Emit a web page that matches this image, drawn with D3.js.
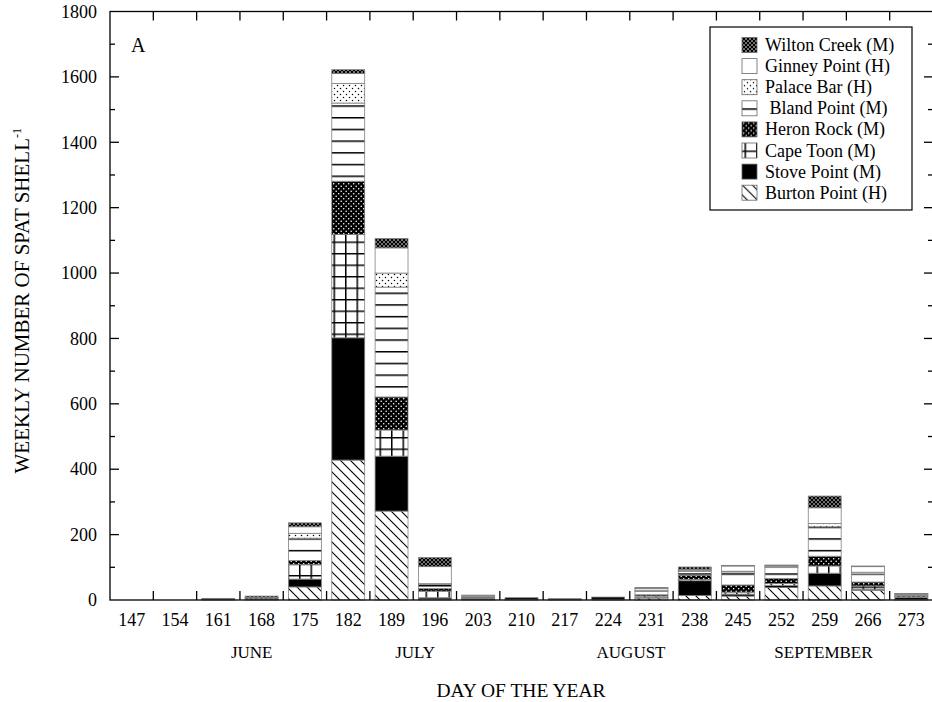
<!DOCTYPE html>
<html>
  <head>
    <title>Weekly spat</title>
    <script src="https://cdn.jsdelivr.net/npm/d3@7/dist/d3.min.js"></script>
    <style>
      body { margin: 0; background: #fff; }
      text { font-family: "Liberation Serif", "Times New Roman", serif; fill: #000; }
    </style>
  </head>
  <body>
    <svg width="932" height="702" id="mainsvg"></svg>
    <script>
      // days of year (x categories)
      const days = [147, 154, 161, 168, 175, 182, 189, 196, 203, 210, 217, 224, 231, 238, 245, 252, 259, 266, 273];
      // stacked series, bottom to top
      const burtonPoint = [0, 0, 1, 2, 40, 428, 272, 3, 2, 2, 1, 2, 6, 14, 12, 38, 43, 30, 2];
      const stovePoint  = [0, 0, 4, 2, 24, 374, 168, 4, 2, 5, 3, 7, 2, 45, 6, 6, 39, 3, 6];
      const capeToon    = [0, 0, 0, 0, 45, 316, 80, 20, 2, 0, 0, 0, 4, 4, 6, 6, 22, 10, 2];
      const heronRock   = [0, 0, 0, 4, 12, 163, 101, 8, 2, 0, 0, 0, 4, 13, 22, 16, 30, 12, 4];
      const blandPoint  = [0, 0, 0, 0, 68, 239, 336, 12, 4, 0, 0, 0, 10, 12, 40, 33, 90, 25, 3];
      const palaceBar   = [0, 0, 0, 0, 15, 60, 43, 3, 2, 0, 0, 0, 4, 3, 2, 4, 10, 5, 1];
      const ginneyPoint = [0, 0, 0, 0, 20, 30, 77, 52, 1, 0, 0, 0, 6, 3, 16, 2, 48, 17, 1];
      const wiltonCreek = [0, 0, 0, 4, 12, 12, 29, 28, 0, 0, 0, 0, 2, 7, 2, 2, 36, 2, 1];

      const seriesKeys = ['Burton Point (H)', 'Stove Point (M)', 'Cape Toon (M)', 'Heron Rock (M)',
                          ' Bland Point (M)', 'Palace Bar (H)', 'Ginney Point (H)', 'Wilton Creek (M)'];
      const seriesValues = [burtonPoint, stovePoint, capeToon, heronRock, blandPoint, palaceBar, ginneyPoint, wiltonCreek];
      const patternIds = ['burton', 'stove', 'cape', 'heron', 'bland', 'palace', 'ginney', 'wilton'];

      const yTicks = [0, 200, 400, 600, 800, 1000, 1200, 1400, 1600, 1800];
      const months = ['JUNE', 'JULY', 'AUGUST', 'SEPTEMBER'];
      const monthDays = [166.4, 192.8, 227.7, 258.8];

      const svg = d3.select('#mainsvg');
      const margin = {top: 11.5, right: -1, bottom: 102, left: 110};
      const width = +svg.attr('width');
      const height = +svg.attr('height');
      const x0 = margin.left, x1 = width - margin.right;
      const y0 = height - margin.bottom, y1 = margin.top;

      // table for d3.stack
      const table = days.map((d, i) => {
        const row = {day: d};
        seriesKeys.forEach((k, j) => row[k] = seriesValues[j][i]);
        return row;
      });
      const stacked = d3.stack().keys(seriesKeys)(table);

      const xScale = d3.scaleBand().domain(days).range([x0, x1]).paddingInner(0.24).paddingOuter(0.12);
      const yScale = d3.scaleLinear().domain([0, 1800]).range([y0, y1]);
      const step = xScale.step();
      const edge = d => xScale(d) - step * xScale.paddingOuter();
      const dayScale = d3.scaleLinear().domain([days[0], days[days.length - 1]])
        .range([xScale(days[0]) + xScale.bandwidth() / 2, xScale(days[days.length - 1]) + xScale.bandwidth() / 2]);

      // patterns
      const defs = svg.append('defs');
      const mkPat = (id, w, h) => defs.append('pattern').attr('id', id)
        .attr('patternUnits', 'userSpaceOnUse').attr('width', w).attr('height', h);

      let p = mkPat('burton', 10, 10);
      p.append('rect').attr('width', 10).attr('height', 10).attr('fill', '#fff');
      p.append('path').attr('d', 'M0,0L10,10M-1,9L1,11M9,-1L11,1').attr('stroke', '#000').attr('stroke-width', 1.1);

      p = mkPat('stove', 4, 4);
      p.append('rect').attr('width', 4).attr('height', 4).attr('fill', '#000');

      p = mkPat('cape', 11.5, 11.5);
      p.append('rect').attr('width', 11.5).attr('height', 11.5).attr('fill', '#fff');
      p.append('path').attr('d', 'M0,0.75H11.5M0.75,0V11.5').attr('stroke', '#000').attr('stroke-width', 1.5);

      p = mkPat('heron', 5, 5);
      p.append('rect').attr('width', 5).attr('height', 5).attr('fill', '#000');
      p.append('circle').attr('cx', 1.2).attr('cy', 1.2).attr('r', 0.8).attr('fill', '#fff');
      p.append('circle').attr('cx', 3.7).attr('cy', 3.7).attr('r', 0.8).attr('fill', '#fff');

      p = mkPat('bland', 11.7, 11.7);
      p.append('rect').attr('width', 11.7).attr('height', 11.7).attr('fill', '#fff');
      p.append('path').attr('d', 'M0,0.75H11.7').attr('stroke', '#000').attr('stroke-width', 1.5);

      p = mkPat('palace', 6, 6);
      p.append('rect').attr('width', 6).attr('height', 6).attr('fill', '#fff');
      p.append('circle').attr('cx', 1.5).attr('cy', 1.5).attr('r', 0.75).attr('fill', '#000');
      p.append('circle').attr('cx', 4.5).attr('cy', 4.5).attr('r', 0.75).attr('fill', '#000');

      p = mkPat('ginney', 4, 4);
      p.append('rect').attr('width', 4).attr('height', 4).attr('fill', '#fff');

      p = mkPat('wilton', 4, 4);
      p.append('rect').attr('width', 4).attr('height', 4).attr('fill', '#fff');
      [[0, 0], [4, 0], [0, 4], [4, 4], [2, 2]].forEach(([cx, cy]) =>
        p.append('circle').attr('cx', cx).attr('cy', cy).attr('r', 1.5).attr('fill', '#000'));

      // bars
      const g = svg.append('g').attr('id', 'maingroup');
      g.selectAll('.layer')
        .data(stacked)
        .join('g')
        .attr('class', 'layer')
        .attr('fill', (s, i) => `url(#${patternIds[i]})`)
        .selectAll('rect')
        .data(s => s.filter(d => d[1] - d[0] > 0))
        .join('rect')
        .attr('x', d => xScale(d.data.day))
        .attr('width', xScale.bandwidth())
        .attr('y', d => yScale(d[1]))
        .attr('height', d => yScale(d[0]) - yScale(d[1]))
        .attr('stroke', '#808080')
        .attr('stroke-width', 0.8);

      // frame
      svg.append('rect').attr('x', x0).attr('y', y1).attr('width', x1 - x0).attr('height', y0 - y1)
        .attr('fill', 'none').attr('stroke', '#000').attr('stroke-width', 1.3);

      // x ticks at band edges, top and bottom, pointing in
      const edges = days.slice(1);
      svg.append('g').selectAll('line').data(edges).join('line')
        .attr('x1', edge).attr('x2', edge).attr('y1', y0).attr('y2', y0 - 9)
        .attr('stroke', '#000').attr('stroke-width', 1.3);
      svg.append('g').selectAll('line').data(edges).join('line')
        .attr('x1', edge).attr('x2', edge).attr('y1', y1).attr('y2', y1 + 9)
        .attr('stroke', '#000').attr('stroke-width', 1.3);

      // y ticks, major and minor, left and right
      const minor = d3.range(100, 1800, 200);
      [[x0, 1], [x1, -1]].forEach(([xx, dir]) => {
        svg.append('g').selectAll('line').data(yTicks.slice(1, -1)).join('line')
          .attr('x1', xx).attr('x2', xx + dir * 9).attr('y1', yScale).attr('y2', yScale)
          .attr('stroke', '#000').attr('stroke-width', 1.3);
        svg.append('g').selectAll('line').data(minor).join('line')
          .attr('x1', xx).attr('x2', xx + dir * 5).attr('y1', yScale).attr('y2', yScale)
          .attr('stroke', '#000').attr('stroke-width', 1.3);
      });

      // axis labels
      const xAxis = d3.axisBottom(xScale).tickSize(0).tickPadding(13);
      const xAxisGroup = svg.append('g').attr('transform', `translate(0, ${y0})`).call(xAxis);
      xAxisGroup.selectAll('.domain').remove();
      xAxisGroup.selectAll('text').style('font-size', '18px').style('font-family', '"Liberation Serif", serif');

      const yAxis = d3.axisLeft(yScale).tickValues(yTicks).tickFormat(d3.format('d')).tickSize(0).tickPadding(13);
      const yAxisGroup = svg.append('g').attr('transform', `translate(${x0}, 0)`).call(yAxis);
      yAxisGroup.selectAll('.domain').remove();
      yAxisGroup.selectAll('text').style('font-size', '18px').style('font-family', '"Liberation Serif", serif');

      svg.append('g').selectAll('text').data(months).join('text')
        .attr('x', (m, i) => dayScale(monthDays[i]))
        .attr('y', 658)
        .attr('text-anchor', 'middle')
        .style('font-size', '17px')
        .text(m => m);

      svg.append('text')
        .attr('x', (x0 + 932) / 2).attr('y', 697)
        .attr('text-anchor', 'middle')
        .style('font-size', '19.5px')
        .text('DAY OF THE YEAR');

      const yTitle = svg.append('text')
        .attr('transform', `translate(29, ${(y0 + y1) / 2 - 5}) rotate(-90)`)
        .attr('text-anchor', 'middle')
        .style('font-size', '21px');
      yTitle.append('tspan').text('WEEKLY NUMBER OF SPAT SHELL');
      yTitle.append('tspan').attr('dy', -8).style('font-size', '12px').text('-1');

      svg.append('text').attr('x', 131).attr('y', 52).style('font-size', '20px').text('A');

      // legend
      const legend = svg.append('g').attr('transform', 'translate(710, 27)');
      legend.append('rect').attr('width', 202).attr('height', 183)
        .attr('fill', '#fff').attr('stroke', '#000').attr('stroke-width', 1.2);
      const legendOrder = d3.range(seriesKeys.length).reverse();
      const items = legend.selectAll('.item').data(legendOrder).join('g')
        .attr('class', 'item')
        .attr('transform', (k, i) => `translate(0, ${18 + i * 21.1})`);
      items.append('rect')
        .attr('x', 32).attr('y', -7.5).attr('width', 15).attr('height', 15)
        .attr('fill', k => `url(#${patternIds[k]})`)
        .attr('stroke', '#666').attr('stroke-width', 0.8);
      items.append('text')
        .attr('x', 55).attr('y', 6)
        .style('font-size', '18px')
        .style('white-space', 'pre')
        .attr('xml:space', 'preserve')
        .text(k => seriesKeys[k]);
    </script>
  </body>
</html>
